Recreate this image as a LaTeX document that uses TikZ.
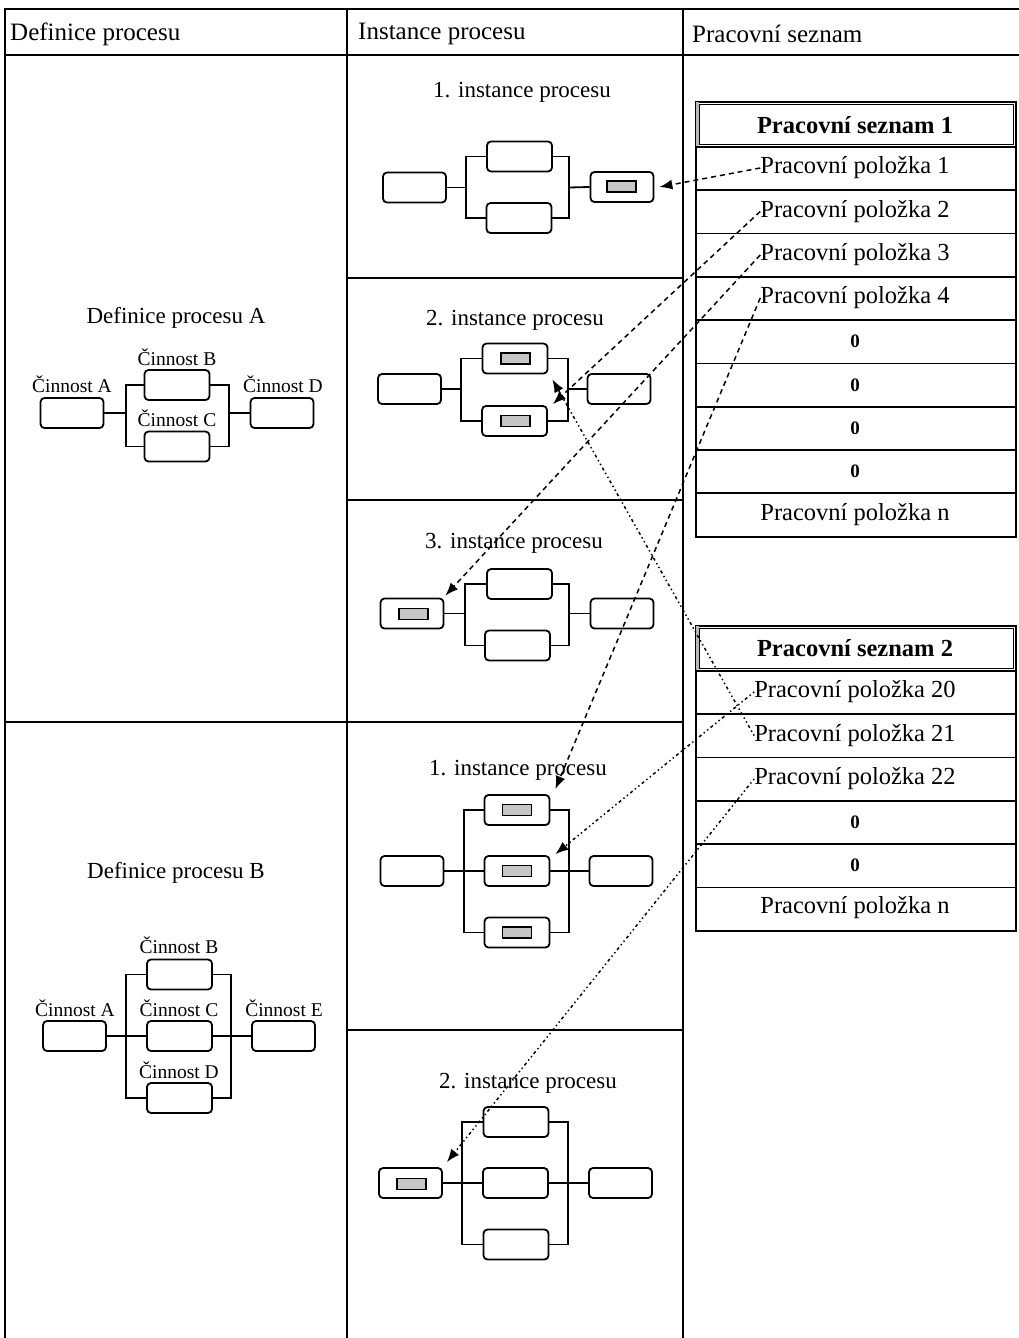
\documentclass[tikz,border=0pt]{standalone}
\usepackage{fontspec}
\setmainfont{Liberation Serif}
\usetikzlibrary{arrows.meta}
\begin{document}
\begin{tikzpicture}[x=1pt,y=-1pt,
  grid/.style={line width=2pt},
  act/.style={draw, line width=1.8pt, rounded corners=4pt, minimum width=63pt, minimum height=30pt, inner sep=0pt},
  midact/.style={act, minimum width=65pt},
  wi/.style={draw, line width=1.4pt, fill=gray!45, minimum width=29pt, minimum height=11pt, inner sep=0pt},
  wire/.style={line width=1.8pt},
  lbl/.style={font=\fontsize{19.5}{22}\selectfont, anchor=base, inner sep=0pt},
  ttl/.style={font=\fontsize{23}{26}\selectfont, inner sep=0pt},
  hdr/.style={font=\fontsize{25}{28}\selectfont, anchor=west, inner sep=0pt},
  wlhead/.style={draw, line width=2pt, minimum width=320pt, minimum height=45pt, inner sep=0pt, anchor=north west},
  wlrow/.style={draw, line width=1.8pt, minimum width=320pt, minimum height=43.3pt, inner sep=0pt, anchor=north west},
  wltxt/.style={font=\fontsize{24.5}{28}\selectfont, inner sep=0pt},
  wlzero/.style={font=\fontsize{19}{22}\selectfont\bfseries, inner sep=0pt},
  wlbold/.style={font=\fontsize{24.5}{28}\selectfont\bfseries, inner sep=0pt},
  dsh/.style={line width=1.5pt, dash pattern=on 5pt off 4pt, -{Latex[length=13pt,width=10pt]}},
  dtt/.style={line width=1.5pt, dash pattern=on 1.4pt off 3pt on 1.4pt off 3pt on 3pt off 3pt, -{Latex[length=13pt,width=10pt]}},
]
\useasboundingbox (0,0) rectangle (1019,1338);
\fill[white] (0,0) rectangle (1019,1338);

% ---------- table frame ----------
\draw[grid] (5,1338) -- (5,9) -- (1019,9);
\draw[grid] (5,55) -- (1019,55);
\draw[grid] (347,9) -- (347,1338);
\draw[grid] (683,9) -- (683,1338);
\draw[grid] (5,722) -- (683,722);
\draw[grid] (347,278) -- (683,278);
\draw[grid] (347,500) -- (683,500);
\draw[grid] (347,1030) -- (683,1030);

\node[hdr] (h1) at (10,34) {Definice procesu};
\node[hdr] (h2) at (358,34) {Instance procesu};
\node[hdr] (h3) at (692,34) {Pracovní seznam};

% ---------- process definition A ----------
\node[ttl] (dAt) at (176,318) {Definice procesu A};
\node[act] (dAa) at (72,413) {};
\node[midact] (dAb) at (177,385) {};
\node[midact] (dAc) at (177,446.5) {};
\node[act] (dAd) at (282,413) {};
\node[lbl] (dAla) at (72,392) {Činnost A};
\node[lbl] (dAlb) at (177,365) {Činnost B};
\node[lbl] (dAlc) at (177,426) {Činnost C};
\node[lbl] (dAld) at (283,392) {Činnost D};
\coordinate (dAj1) at (126,413);
\coordinate (dAj2) at (229,413);
\draw[wire] (dAa.east) -- (dAj1);
\draw[wire] (dAb.west) -| (dAj1);
\draw[wire] (dAc.west) -| (dAj1);
\draw[wire] (dAb.east) -| (dAj2);
\draw[wire] (dAc.east) -| (dAj2);
\draw[wire] (dAj2) -- (dAd.west);

% ---------- process definition B ----------
\node[ttl] (dBt) at (176,873) {Definice procesu B};
\node[act] (dBa) at (74.5,1036) {};
\node[midact] (dBb) at (179.5,974.5) {};
\node[midact] (dBc) at (179.5,1036) {};
\node[midact] (dBd) at (179.5,1098) {};
\node[act] (dBe) at (283.5,1036) {};
\node[lbl] (dBla) at (75,1016) {Činnost A};
\node[lbl] (dBlb) at (179,953) {Činnost B};
\node[lbl] (dBlc) at (179,1016) {Činnost C};
\node[lbl] (dBld) at (179,1078) {Činnost D};
\node[lbl] (dBle) at (284,1016) {Činnost E};
\coordinate (dBj1) at (126,1036);
\coordinate (dBj2) at (231,1036);
\draw[wire] (dBa.east) -- (dBc.west);
\draw[wire] (dBb.west) -| (dBj1);
\draw[wire] (dBd.west) -| (dBj1);
\draw[wire] (dBb.east) -| (dBj2);
\draw[wire] (dBd.east) -| (dBj2);
\draw[wire] (dBc.east) -- (dBe.west);

% ---------- process A, instance 1 ----------
\node[ttl] (i1t) at (522,92) {1. instance procesu};
\node[act] (i1l) at (414.5,187.5) {};
\node[midact] (i1a) at (519.5,156.5) {};
\node[midact] (i1b) at (519,218) {};
\node[act] (i1r) at (622,187) {};
\node[wi] (i1rw) at (621.5,186.5) {};
\coordinate (i1j1) at (466,187.5);
\coordinate (i1j2) at (569,187.5);
\draw[wire] (i1l.east) -- (i1j1);
\draw[wire] (i1a.west) -| (i1j1);
\draw[wire] (i1b.west) -| (i1j1);
\draw[wire] (i1a.east) -| (i1j2);
\draw[wire] (i1b.east) -| (i1j2);
\draw[wire] (i1j2) -- (i1r.west);

% ---------- process A, instance 2 ----------
\node[ttl] (i2t) at (515,320) {2. instance procesu};
\node[act] (i2l) at (409.5,389) {};
\node[midact] (i2a) at (515,358.5) {};
\node[midact] (i2b) at (514.5,421) {};
\node[act] (i2r) at (619,389) {};
\node[wi] (i2aw) at (515.5,358.5) {};
\node[wi] (i2bw) at (515.5,421) {};
\coordinate (i2j1) at (461,389);
\coordinate (i2j2) at (568,389);
\draw[wire] (i2l.east) -- (i2j1);
\draw[wire] (i2a.west) -| (i2j1);
\draw[wire] (i2b.west) -| (i2j1);
\draw[wire] (i2a.east) -| (i2j2);
\draw[wire] (i2b.east) -| (i2j2);
\draw[wire] (i2j2) -- (i2r.west);

% ---------- process A, instance 3 ----------
\node[ttl] (i3t) at (514,543) {3. instance procesu};
\node[act] (i3l) at (412,613.5) {};
\node[midact] (i3a) at (519.5,584) {};
\node[midact] (i3b) at (517.5,645.5) {};
\node[act] (i3r) at (622,613.5) {};
\node[wi] (i3lw) at (413.5,614) {};
\coordinate (i3j1) at (465,613.5);
\coordinate (i3j2) at (569,613.5);
\draw[wire] (i3l.east) -- (i3j1);
\draw[wire] (i3a.west) -| (i3j1);
\draw[wire] (i3b.west) -| (i3j1);
\draw[wire] (i3a.east) -| (i3j2);
\draw[wire] (i3b.east) -| (i3j2);
\draw[wire] (i3j2) -- (i3r.west);

% ---------- process B, instance 1 ----------
\node[ttl] (b1t) at (518,770) {1. instance procesu};
\node[act] (b1l) at (412,871) {};
\node[midact] (b1a) at (517,810) {};
\node[midact] (b1b) at (517,871) {};
\node[midact] (b1c) at (517,932.5) {};
\node[act] (b1r) at (621,871) {};
\node[wi] (b1aw) at (517,810) {};
\node[wi] (b1bw) at (517,871) {};
\node[wi] (b1cw) at (517,932.5) {};
\coordinate (b1j1) at (464,871);
\coordinate (b1j2) at (569,871);
\draw[wire] (b1l.east) -- (b1b.west);
\draw[wire] (b1a.west) -| (b1j1);
\draw[wire] (b1c.west) -| (b1j1);
\draw[wire] (b1a.east) -| (b1j2);
\draw[wire] (b1c.east) -| (b1j2);
\draw[wire] (b1b.east) -- (b1r.west);

% ---------- process B, instance 2 ----------
\node[ttl] (b2t) at (528,1083) {2. instance procesu};
\node[act] (b2l) at (410.5,1183) {};
\node[midact] (b2a) at (516,1122) {};
\node[midact] (b2b) at (515.5,1183) {};
\node[midact] (b2c) at (516,1244.5) {};
\node[act] (b2r) at (620.5,1183) {};
\node[wi] (b2lw) at (411.5,1184) {};
\coordinate (b2j1) at (462,1183);
\coordinate (b2j2) at (568,1183);
\draw[wire] (b2l.east) -- (b2b.west);
\draw[wire] (b2a.west) -| (b2j1);
\draw[wire] (b2c.west) -| (b2j1);
\draw[wire] (b2a.east) -| (b2j2);
\draw[wire] (b2c.east) -| (b2j2);
\draw[wire] (b2b.east) -- (b2r.west);

% ---------- work list 1 ----------
\node[wlhead] (w1h) at (695,101) {};
\fill[gray!55] ([shift={(1pt,-1pt)}]w1h.north west) rectangle ([shift={(4pt,1pt)}]w1h.south west);
\draw[line width=1pt] ([shift={(4pt,-3.5pt)}]w1h.north west) rectangle ([shift={(-3.5pt,3.5pt)}]w1h.south east);
\node[wlbold] (w1ht) at (855,125) {Pracovní seznam 1};
\node[wlrow] (w1r1) at (695,146) {};
\node[wlrow] (w1r2) at (695,189.3) {};
\node[wlrow] (w1r3) at (695,232.6) {};
\node[wlrow] (w1r4) at (695,275.9) {};
\node[wlrow] (w1r5) at (695,319.2) {};
\node[wlrow] (w1r6) at (695,362.5) {};
\node[wlrow] (w1r7) at (695,405.8) {};
\node[wlrow] (w1r8) at (695,449.1) {};
\node[wlrow] (w1r9) at (695,492.4) {};
\node[wltxt] (t1) at (855,168) {Pracovní položka 1};
\node[wltxt] (t2) at (855,211.5) {Pracovní položka 2};
\node[wltxt] (t3) at (855,255) {Pracovní položka 3};
\node[wltxt] (t4) at (855,298) {Pracovní položka 4};
\node[wlzero] (t5) at (855,341.5) {0};
\node[wlzero] (t6) at (855,385) {0};
\node[wlzero] (t7) at (855,428) {0};
\node[wlzero] (t8) at (855,471) {0};
\node[wltxt] (t9) at (855,514.5) {Pracovní položka n};

% ---------- work list 2 ----------
\node[wlhead] (w2h) at (695,625) {};
\fill[gray!55] ([shift={(1pt,-1pt)}]w2h.north west) rectangle ([shift={(4pt,1pt)}]w2h.south west);
\draw[line width=1pt] ([shift={(4pt,-3.5pt)}]w2h.north west) rectangle ([shift={(-3.5pt,3.5pt)}]w2h.south east);
\node[wlbold] (w2ht) at (855,648) {Pracovní seznam 2};
\node[wlrow] (w2r1) at (695,670) {};
\node[wlrow] (w2r2) at (695,713.3) {};
\node[wlrow] (w2r3) at (695,756.6) {};
\node[wlrow] (w2r4) at (695,799.9) {};
\node[wlrow] (w2r5) at (695,843.2) {};
\node[wlrow] (w2r6) at (695,886.5) {};
\node[wltxt] (t20) at (855,692) {Pracovní položka 20};
\node[wltxt] (t21) at (855,735.5) {Pracovní položka 21};
\node[wltxt] (t22) at (855,779) {Pracovní položka 22};
\node[wlzero] (t23) at (855,822) {0};
\node[wlzero] (t24) at (855,865) {0};
\node[wltxt] (t25) at (855,908) {Pracovní položka n};

% ---------- assignment of work items to activities ----------
\draw[dsh] (t1.west) -- ([xshift=5pt]i1r.east);
\draw[dsh] (t2.west) -- ([shift={(5pt,1pt)}]i2b.north east);
\draw[dsh] (t3.west) -- ([shift={(1pt,2pt)}]i3l.north east);
\draw[dsh] (t4.west) -- ([shift={(5pt,5pt)}]b1a.north east);
\draw[dtt] (t20.west) -- ([shift={(5pt,1pt)}]b1b.north east);
\draw[dtt] (t21.west) -- ([shift={(4pt,-5pt)}]i2a.south east);
\draw[dtt] (t22.west) -- ([shift={(4pt,5pt)}]b2l.north east);
\end{tikzpicture}
\end{document}
